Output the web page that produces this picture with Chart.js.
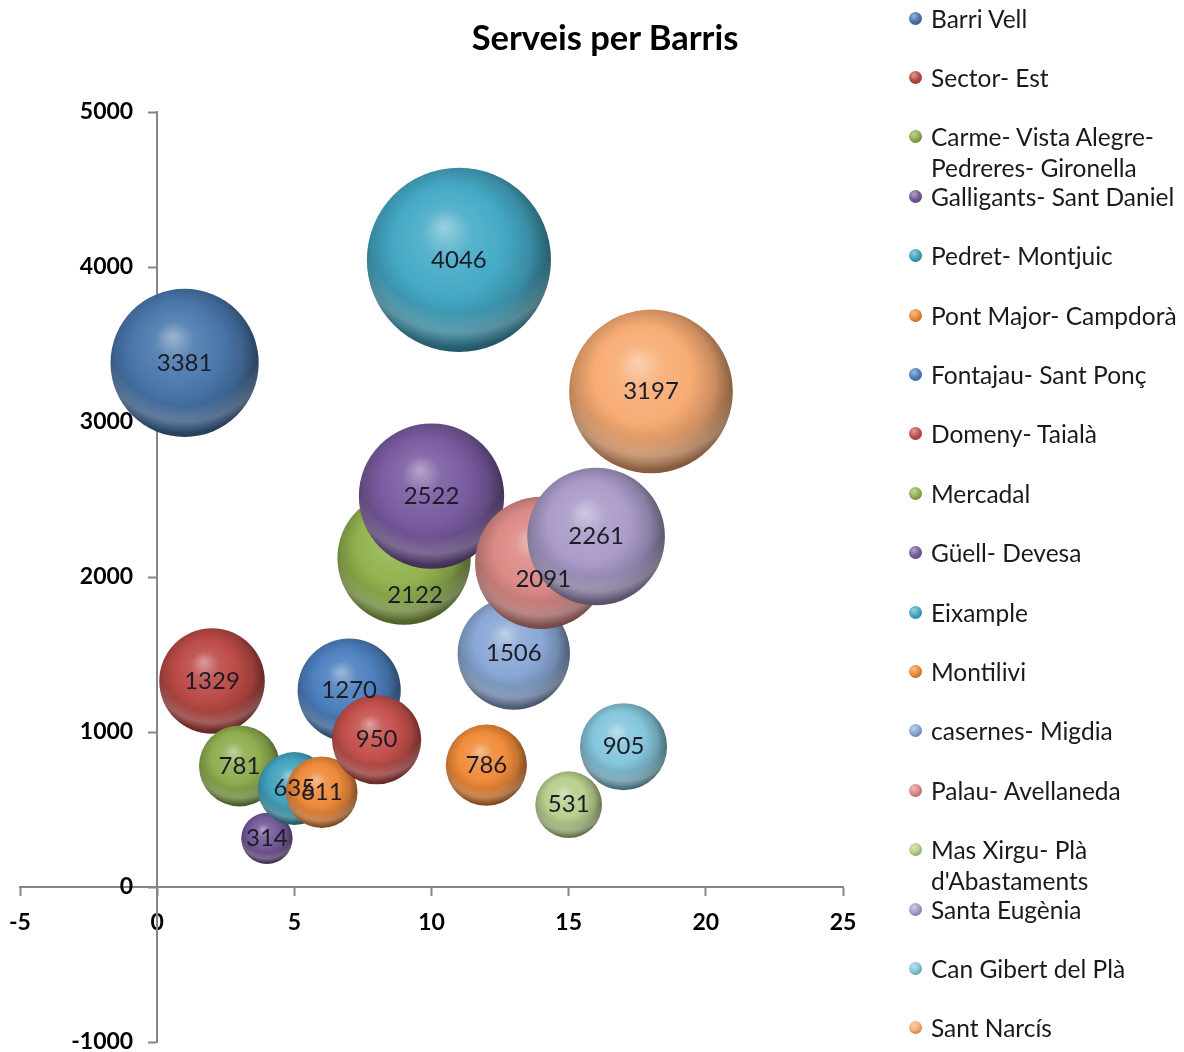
<!DOCTYPE html>
<html>
<head>
<meta charset="utf-8">
<title>Serveis per Barris</title>
<script src="https://cdn.jsdelivr.net/npm/chart.js@4.4.1/dist/chart.umd.min.js"></script>
<style>
    html, body { margin: 0; padding: 0; background: #fff; overflow: hidden; }
    #wrap { position: relative; width: 1184px; height: 1052px; }
    #chart { position: absolute; left: 0; top: 0; }
    #title {
        position: absolute; left: 405px; top: 15px; width: 400px;
        text-align: center; font: bold 34.5px Lato, sans-serif; line-height: 44px; color: #000;
    }
    #legend { position: absolute; left: 906px; top: 0; width: 278px; height: 1052px; }
    .item { position: absolute; left: 0; width: 278px; font: 24.5px Lato, sans-serif; line-height: 31px; color: #1a1a1a; }
    .item .dot {
        position: absolute; left: 3px; top: 9px; width: 13px; height: 13px; border-radius: 50%;
    }
    .item .txt { position: absolute; left: 25px; top: 0; width: 256px; }
</style>
</head>
<body>
<div id="wrap">
    <canvas id="chart" width="1184" height="1052"></canvas>
    <div id="title">Serveis per Barris</div>
    <div id="legend"></div>
</div>
<script>
// neighbourhoods, in series order
const barris = [
    'Barri Vell', 'Sector- Est', 'Carme- Vista Alegre- Pedreres- Gironella',
    'Galligants- Sant Daniel', 'Pedret- Montjuic', 'Pont Major- Campdorà',
    'Fontajau- Sant Ponç', 'Domeny- Taialà', 'Mercadal', 'Güell- Devesa',
    'Eixample', 'Montilivi', 'casernes- Migdia', 'Palau- Avellaneda',
    "Mas Xirgu- Plà d'Abastaments", 'Santa Eugènia', 'Can Gibert del Plà', 'Sant Narcís'
];
const xPos = [1, 2, 3, 4, 5, 6, 7, 8, 9, 10, 11, 12, 13, 14, 15, 16, 17, 18];
const serveis = [3381, 1329, 781, 314, 635, 611, 1270, 950, 2122, 2522, 4046, 786, 1506, 2091, 531, 2261, 905, 3197];
// bubble sizes
const bubbleSize = [2620, 1329, 781, 314, 635, 611, 1270, 950, 2122, 2522, 4046, 786, 1506, 2091, 531, 2261, 905, 3197];
const colours = [
    '#4a78ad', '#bb4a46', '#8fae4f', '#755a98', '#43a3bf', '#ee8a3a',
    '#4d80be', '#c4504c', '#92b34f', '#7a5ca0', '#45aac6', '#f08b3a',
    '#8aa8d6', '#dc8a86', '#b8cf8e', '#aa9bc9', '#85c6dc', '#f8ac74'
];

const FONT = 'Lato, sans-serif';
const AXIS_GREY = '#868686';

function hexToRgb(hex) {
    const n = parseInt(hex.slice(1), 16);
    return [(n >> 16) & 255, (n >> 8) & 255, n & 255];
}
function mix(hex, target, amt) {
    const c = hexToRgb(hex);
    const t = target === 'white' ? 255 : 0;
    const m = c.map(v => Math.round(v + (t - v) * amt));
    return `rgb(${m[0]},${m[1]},${m[2]})`;
}

function bubbleRadius(chart, size) {
    const area = chart.chartArea;
    const h = area ? area.bottom - area.top : 930;
    const maxR = h * 0.099;
    return maxR * Math.sqrt(size / Math.max(...bubbleSize));
}

// 3D looking sphere fill like the Excel bubbles
function sphereFill(c, i) {
    const chart = c.chart;
    const xs = chart.scales.x, ys = chart.scales.y;
    if (!chart.chartArea || !xs || !ys) return colours[i];
    const cx = xs.getPixelForValue(xPos[i]);
    const cy = ys.getPixelForValue(serveis[i]);
    const r = bubbleRadius(chart, bubbleSize[i]);
    const base = colours[i];
    const g = chart.ctx.createRadialGradient(cx - 0.16 * r, cy - 0.36 * r, 0, cx - 0.06 * r, cy - 0.08 * r, 1.08 * r);
    g.addColorStop(0, mix(base, 'white', 0.45));
    g.addColorStop(0.25, mix(base, 'white', 0.1));
    g.addColorStop(0.55, base);
    g.addColorStop(0.8, mix(base, 'black', 0.18));
    g.addColorStop(1, mix(base, 'black', 0.48));
    return g;
}

// soft light band along the bottom of each sphere
const sphereGlow = {
    id: 'sphereGlow',
    afterDatasetDraw(chart, args) {
        const el = args.meta.data[0];
        if (!el) return;
        const r = el.options.radius;
        const ctx = chart.ctx;
        ctx.save();
        ctx.beginPath();
        ctx.arc(el.x, el.y, r, 0, Math.PI * 2);
        ctx.clip();
        const g = ctx.createRadialGradient(el.x, el.y - 0.5 * r, 0, el.x, el.y - 0.5 * r, 1.5 * r);
        g.addColorStop(0, 'rgba(255,255,255,0)');
        g.addColorStop(0.72, 'rgba(255,255,255,0)');
        g.addColorStop(0.86, 'rgba(255,255,255,0.2)');
        g.addColorStop(0.96, 'rgba(255,255,255,0)');
        ctx.fillStyle = g;
        ctx.fillRect(el.x - r, el.y - r, 2 * r, 2 * r);
        ctx.restore();
    }
};

const valueLabels = {
    id: 'valueLabels',
    afterDatasetsDraw(chart, args, opts) {
        const ctx = chart.ctx;
        ctx.save();
        ctx.font = `24px ${FONT}`;
        ctx.fillStyle = '#1c1c28';
        ctx.textAlign = 'center';
        ctx.textBaseline = 'middle';
        chart.data.datasets.forEach((ds, i) => {
            const el = chart.getDatasetMeta(i).data[0];
            if (!el) return;
            const nudge = opts.nudge[ds.label] || [0, 0];
            ctx.fillText(String(ds.data[0].y), el.x + nudge[0], el.y + nudge[1]);
        });
        ctx.restore();
    }
};

function buildLegend(chart) {
    const box = document.getElementById('legend');
    box.innerHTML = '';
    chart.data.datasets.forEach((ds, i) => {
        const item = document.createElement('div');
        item.className = 'item';
        item.style.top = (2.5 + i * 59.4) + 'px';
        const base = colours[i];
        item.innerHTML = `<span class="dot" style="background: radial-gradient(circle at 38% 32%, ${mix(base, 'white', 0.45)} 0%, ${base} 45%, ${mix(base, 'black', 0.4)} 100%);"></span>` +
            `<span class="txt">${ds.label}</span>`;
        box.appendChild(item);
    });
}

// axes sit inside the plot, so they must not take any room in the layout
function noRoom(s) {
    if (s.isHorizontal()) s.height = 0; else s.width = 0;
    s.paddingLeft = s.paddingRight = s.paddingTop = s.paddingBottom = 0;
}

function drawChart() {
    const datasets = barris.map((name, i) => ({
        label: name,
        data: [{ x: xPos[i], y: serveis[i] }],
        order: barris.length - i, // later series sit on top
        backgroundColor: c => sphereFill(c, i),
        borderWidth: 0,
        radius: c => bubbleRadius(c.chart, bubbleSize[i])
    }));

    const tickFont = { family: FONT, size: 23, weight: 'bold' };
    const plain = v => String(v);

    const chart = new Chart(document.getElementById('chart'), {
        type: 'bubble',
        data: { datasets },
        options: {
            responsive: false,
            animation: false,
            events: [],
            layout: { autoPadding: false, padding: { left: 20, right: 341, top: 112, bottom: 10 } },
            plugins: {
                legend: { display: false },
                title: { display: false },
                tooltip: { enabled: false },
                valueLabels: { nudge: { 'Mercadal': [11, 37], 'Palau- Avellaneda': [2, 16] } }
            },
            scales: {
                x: {
                    type: 'linear', min: -5, max: 25,
                    position: { y: 0 },
                    afterFit: noRoom,
                    ticks: { stepSize: 5, color: '#000', font: tickFont, padding: 14, callback: plain },
                    grid: { drawOnChartArea: false, tickLength: 8, tickColor: AXIS_GREY, tickWidth: 2 },
                    border: { color: AXIS_GREY, width: 2 }
                },
                y: {
                    type: 'linear', min: -1000, max: 5000,
                    position: { x: 0 },
                    afterFit: noRoom,
                    ticks: { display: false, stepSize: 1000 },
                    grid: { drawOnChartArea: false, tickLength: 8, tickColor: AXIS_GREY, tickWidth: 2 },
                    border: { color: AXIS_GREY, width: 2 }
                },
                // carries the y tick labels, set a little left of the y axis line
                yLabels: {
                    type: 'linear', axis: 'y', min: -1000, max: 5000,
                    position: { x: -0.875 },
                    afterFit: noRoom,
                    ticks: { stepSize: 1000, color: '#000', font: tickFont, callback: plain },
                    grid: { display: false },
                    border: { display: false }
                }
            }
        },
        plugins: [sphereGlow, valueLabels]
    });
    buildLegend(chart);
}

Promise.all([
    document.fonts.load(`23px ${FONT}`),
    document.fonts.load(`bold 23px ${FONT}`)
]).then(drawChart, drawChart);
</script>
</body>
</html>
